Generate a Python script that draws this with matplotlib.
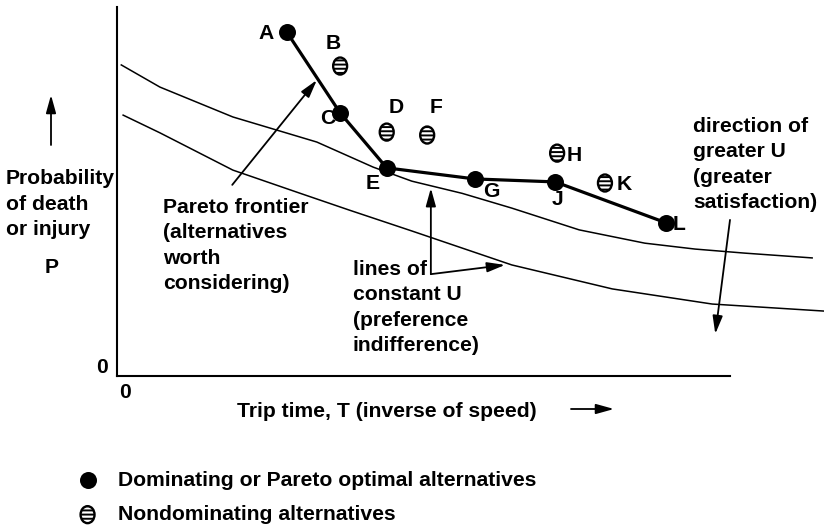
import matplotlib.pyplot as plt
from matplotlib.path import Path
from matplotlib.transforms import Affine2D

W, H = 824, 527

# Alternatives (trip time T, probability P), axis scale 0..10
dom_labels = ['A', 'C', 'E', 'G', 'J', 'L']
dom_T = [2.77, 3.64, 4.40, 5.84, 7.15, 8.96]
dom_P = [9.32, 7.13, 5.64, 5.34, 5.26, 4.15]

nondom_labels = ['B', 'D', 'F', 'H', 'K']
nondom_T = [3.64, 4.40, 5.06, 7.18, 7.96]
nondom_P = [8.40, 6.61, 6.53, 6.04, 5.23]

# lines of constant U (indifference curves)
u1_T = [0.07, 0.70, 1.89, 3.26, 4.18, 4.81, 5.63, 6.44, 7.54, 8.61, 9.43, 10.24, 11.34]
u1_P = [8.43, 7.83, 7.02, 6.34, 5.66, 5.28, 4.95, 4.55, 3.96, 3.60, 3.44, 3.33, 3.20]
u2_T = [0.10, 0.70, 1.89, 2.99, 3.80, 4.81, 6.44, 8.08, 9.71, 11.53]
u2_P = [7.07, 6.59, 5.58, 4.95, 4.49, 3.93, 3.01, 2.36, 1.95, 1.76]

# label offsets in points (dx, dy)
label_offsets = {
    'A': (-15, -1), 'B': (-5, 16), 'C': (-9, -4), 'D': (7, 18), 'E': (-10, -11),
    'F': (6.5, 19.5), 'G': (12, -9), 'H': (12, -2), 'J': (1.5, -13),
    'K': (14, -1), 'L': (9, -1.5),
}

plt.rcParams['font.family'] = ['Liberation Sans', 'DejaVu Sans']
plt.rcParams['font.weight'] = 'bold'
plt.rcParams['hatch.linewidth'] = 1.4
FS = 15.2

fig = plt.figure(figsize=(W / 100, H / 100), dpi=100)
ax = fig.add_axes([117 / W, (H - 376) / H, (730 - 117) / W, (376 - 7) / H])
ax.set_xlim(0, 10)
ax.set_ylim(0, 10)
for s in ['top', 'right']:
    ax.spines[s].set_visible(False)
for s in ['left', 'bottom']:
    ax.spines[s].set_linewidth(1.5)
ax.set_xticks([])
ax.set_yticks([])

ax.plot(u1_T, u1_P, color='black', lw=1.1, clip_on=False)
ax.plot(u2_T, u2_P, color='black', lw=1.1, clip_on=False)

ax.plot(dom_T, dom_P, color='black', lw=2.3, zorder=3)
dom = ax.scatter(dom_T, dom_P, s=150, color='black', lw=0, zorder=4)

ellipse = Affine2D().scale(0.82, 1.0).transform_path(Path.unit_circle())
nondom = ax.scatter(nondom_T, nondom_P, s=150, marker=ellipse, facecolor='white',
                    edgecolor='black', hatch='----', lw=1.7, zorder=4)

for lab, t, p in zip(dom_labels + nondom_labels, dom_T + nondom_T, dom_P + nondom_P):
    ax.annotate(lab, (t, p), xytext=label_offsets[lab], textcoords='offset points',
                ha='center', va='center', fontsize=FS, fontweight='bold')

ap = dict(arrowstyle='-|>,head_length=0.9,head_width=0.25', color='black', lw=1.3,
          shrinkA=0, shrinkB=0, mutation_scale=12)

# Pareto frontier pointer
ax.annotate('', xy=(3.26, 8.02), xytext=(1.88, 5.18), arrowprops=ap, annotation_clip=False)
# lines of constant U bracket
ax.annotate('', xy=(5.12, 5.09), xytext=(5.12, 2.76), arrowprops=ap, annotation_clip=False)
ax.annotate('', xy=(6.33, 3.01), xytext=(5.12, 2.76), arrowprops=ap, annotation_clip=False)
# direction of greater U
ax.annotate('', xy=(9.76, 1.14), xytext=(10.0, 4.23), arrowprops=ap, annotation_clip=False)

# axis direction arrows
ax.annotate('', xy=(51, H - 95), xytext=(51, H - 145), xycoords='figure pixels',
            textcoords='figure pixels', arrowprops=ap, annotation_clip=False)
ax.annotate('', xy=(614, H - 409), xytext=(571, H - 409), xycoords='figure pixels',
            textcoords='figure pixels', arrowprops=ap, annotation_clip=False)


def ftext(x, y, s, ha='left'):
    # y is the baseline of the last line, in pixels from the top
    fig.text(x / W, 1 - y / H, s, ha=ha, va='baseline', fontsize=FS,
             fontweight='bold', linespacing=1.42)


ftext(6, 235, 'Probability\nof death\nor injury')
ftext(52, 273, 'P', ha='center')
ftext(108, 373, '0', ha='right')
ftext(125, 398, '0', ha='center')
ftext(163, 289, 'Pareto frontier\n(alternatives\nworth\nconsidering)')
ftext(353, 351, 'lines of\nconstant U\n(preference\nindifference)')
ftext(693, 208, 'direction of\ngreater U\n(greater\nsatisfaction)')
ftext(237, 417, 'Trip time, T (inverse of speed)')

fig.legend([dom, nondom],
           ['Dominating or Pareto optimal alternatives', 'Nondominating alternatives'],
           loc='upper left', bbox_to_anchor=(77 / W, 1 - 471 / H), frameon=False,
           prop=dict(size=FS, weight='bold'), handlelength=1, handletextpad=0.94,
           labelspacing=0.72, borderpad=0, borderaxespad=0, scatterpoints=1)

fig.savefig('out.png', dpi=100)
